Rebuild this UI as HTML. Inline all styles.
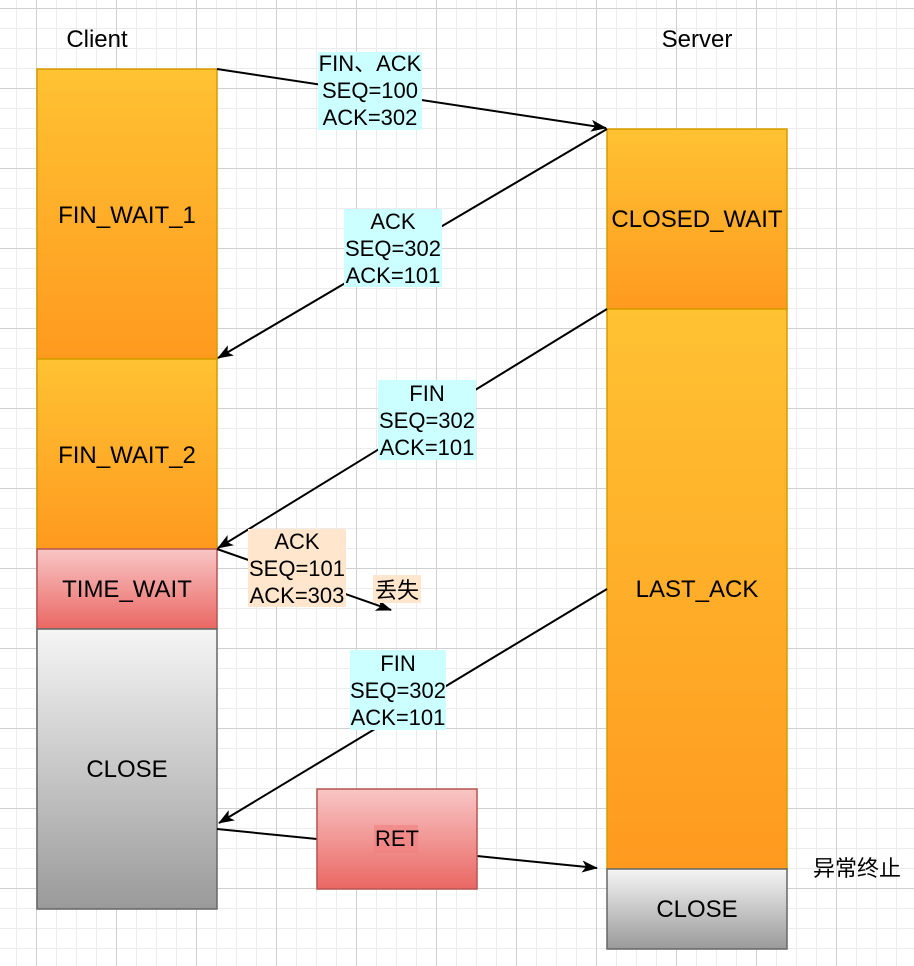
<!DOCTYPE html>
<html><head><meta charset="utf-8">
<style>
html,body{margin:0;padding:0;background:#fff;}
svg{display:block;}
text{font-family:"Liberation Sans","Noto Sans CJK SC",sans-serif;font-size:22px;fill:#000;}
text.b{font-size:24px;}
</style></head>
<body>
<svg width="914" height="966" viewBox="0 0 914 966" xmlns="http://www.w3.org/2000/svg">
<defs>
<pattern id="minor" x="-4" y="8" width="20" height="20" patternUnits="userSpaceOnUse">
<path d="M20 0.5H0.5V20" fill="none" stroke="#ececec" stroke-width="1"/>
</pattern>
<pattern id="major" x="36" y="8" width="80" height="80" patternUnits="userSpaceOnUse">
<path d="M80 0.5H0.5V80" fill="none" stroke="#d0d0d0" stroke-width="1"/>
</pattern>
<linearGradient id="og" x1="0" y1="0" x2="0" y2="1"><stop offset="0" stop-color="#ffc233"/><stop offset="1" stop-color="#ff9a1f"/></linearGradient>
<linearGradient id="rg" x1="0" y1="0" x2="0" y2="1"><stop offset="0" stop-color="#f8c6c5"/><stop offset="1" stop-color="#ea6763"/></linearGradient>
<linearGradient id="gg" x1="0" y1="0" x2="0" y2="1"><stop offset="0" stop-color="#f5f5f5"/><stop offset="1" stop-color="#9a9a9a"/></linearGradient>
<marker id="ar" viewBox="0 0 16 12" refX="15" refY="6" markerWidth="16" markerHeight="12" markerUnits="userSpaceOnUse" orient="auto">
<path d="M0 0L16 6L0 12L4 6Z" fill="#000"/>
</marker>
</defs>
<rect width="914" height="966" fill="url(#minor)"/>
<rect width="914" height="966" fill="url(#major)"/>

<text class="b" x="97" y="47" text-anchor="middle">Client</text>
<text class="b" x="697" y="47" text-anchor="middle">Server</text>

<rect x="37" y="69" width="180" height="290" fill="url(#og)" stroke="#d79b00" stroke-width="1.5"/>
<text class="b" x="127" y="223" text-anchor="middle">FIN_WAIT_1</text>
<rect x="37" y="359" width="180" height="190" fill="url(#og)" stroke="#d79b00" stroke-width="1.5"/>
<text class="b" x="127" y="463" text-anchor="middle">FIN_WAIT_2</text>
<rect x="37" y="549" width="180" height="80" fill="url(#rg)" stroke="#b85450" stroke-width="1.5"/>
<text class="b" x="127" y="597" text-anchor="middle">TIME_WAIT</text>
<rect x="37" y="629" width="180" height="280" fill="url(#gg)" stroke="#666" stroke-width="1.5"/>
<text class="b" x="127" y="777" text-anchor="middle">CLOSE</text>

<rect x="607" y="129" width="180" height="180" fill="url(#og)" stroke="#d79b00" stroke-width="1.5"/>
<text class="b" x="697" y="227" text-anchor="middle">CLOSED_WAIT</text>
<rect x="607" y="309" width="180" height="560" fill="url(#og)" stroke="#d79b00" stroke-width="1.5"/>
<text class="b" x="697" y="597" text-anchor="middle">LAST_ACK</text>
<rect x="607" y="869" width="180" height="80" fill="url(#gg)" stroke="#666" stroke-width="1.5"/>
<text class="b" x="697" y="917" text-anchor="middle">CLOSE</text>

<g stroke="#000" stroke-width="2" fill="none">
<line x1="217" y1="69" x2="606" y2="128" marker-end="url(#ar)"/>
<line x1="607" y1="129" x2="218" y2="358" marker-end="url(#ar)"/>
<line x1="607" y1="309" x2="218" y2="548" marker-end="url(#ar)"/>
<line x1="217" y1="549" x2="391" y2="610" marker-end="url(#ar)"/>
<line x1="607" y1="589" x2="219" y2="823" marker-end="url(#ar)"/>
<line x1="217" y1="829" x2="317" y2="839"/>
<line x1="477" y1="856" x2="597" y2="868" marker-end="url(#ar)"/>
</g>

<rect x="318" y="52" width="104" height="78" fill="#ccffff"/>
<text x="370" y="71" text-anchor="middle">FIN、ACK</text>
<text x="370" y="98" text-anchor="middle">SEQ=100</text>
<text x="370" y="125" text-anchor="middle">ACK=302</text>

<rect x="344" y="209" width="98" height="78" fill="#ccffff"/>
<text x="393" y="229" text-anchor="middle">ACK</text>
<text x="393" y="256" text-anchor="middle">SEQ=302</text>
<text x="393" y="283" text-anchor="middle">ACK=101</text>

<rect x="378" y="380" width="98" height="80" fill="#ccffff"/>
<text x="427" y="401" text-anchor="middle">FIN</text>
<text x="427" y="428" text-anchor="middle">SEQ=302</text>
<text x="427" y="455" text-anchor="middle">ACK=101</text>

<rect x="248" y="529" width="98" height="78" fill="#ffe6cc"/>
<text x="297" y="549" text-anchor="middle">ACK</text>
<text x="297" y="576" text-anchor="middle">SEQ=101</text>
<text x="297" y="603" text-anchor="middle">ACK=303</text>

<rect x="373" y="575" width="48" height="28" fill="#ffe6cc"/>
<text x="397" y="598" text-anchor="middle">丢失</text>

<rect x="350" y="650" width="96" height="80" fill="#ccffff"/>
<text x="398" y="671" text-anchor="middle">FIN</text>
<text x="398" y="698" text-anchor="middle">SEQ=302</text>
<text x="398" y="725" text-anchor="middle">ACK=101</text>

<rect x="317" y="789" width="160" height="100" fill="url(#rg)" stroke="#b85450" stroke-width="1.5"/>
<rect x="374" y="825" width="44" height="28" fill="#f08080" opacity="0.6"/>
<text x="397" y="846" text-anchor="middle">RET</text>

<text x="857" y="876" text-anchor="middle">异常终止</text>
</svg>
</body></html>
